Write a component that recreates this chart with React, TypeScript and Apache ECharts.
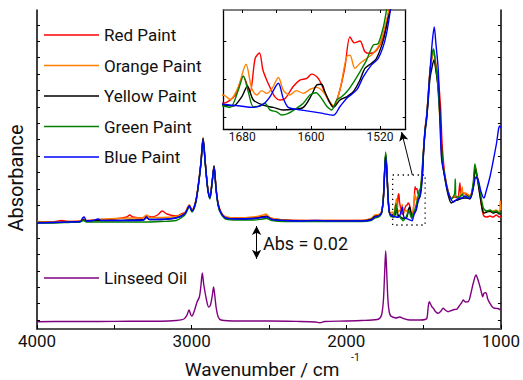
import React, { useEffect, useRef } from 'react';
import * as echarts from 'echarts';

type Pt = [number, number];

// wavenumber (cm^-1), relative absorbance (offset units; 16.4 units = 0.01 Abs)
const redPaint: Pt[] = [
  [4000,107],[3900,107],[3840,108.5],[3800,107.5],[3720,108],[3700,110],[3680,108.5],[3600,109.5],[3500,110],[3420,112],[3400,114],[3380,112],[3320,111],[3292,113],[3260,112],[3220,114],[3190,118],[3160,115],[3100,113],[3060,115.5],[3040,117],[3015,124],[2998,119],[2975,127],[2958,143],[2940,166],[2926,190],[2912,167],[2896,141],[2882,132],[2868,147],[2855,163],[2842,141],[2828,125],[2810,117],[2780,112],[2700,111],[2600,111.5],[2540,112.5],[2515,113],[2480,110.5],[2400,109],[2300,108.5],[2200,108.5],[2100,108.5],[2000,108.5],[1900,108.5],[1840,110],[1815,113],[1790,114],[1772,117],[1760,131],[1752,157],[1745,174],[1738,160],[1730,133],[1722,118],[1712,115],
  [1702,113.4],[1688,117],[1679,125.2],[1671,118.4],[1665,132.9],[1660,135.3],[1656,128],[1651.6,123.5],[1648,120.6],[1642,116.2],[1636,114.8],[1630,115.5],[1621,120.6],[1613,123.5],[1605,124.2],[1599.4,126.1],[1591.6,124.2],[1586,119.9],[1580,114.8],[1574,112.2],[1566.5,119.2],[1560.6,129.3],[1554.8,142.3],[1549.7,139.7],[1543.2,140.5],[1537.4,135.8],[1531.6,135.1],[1523.9,136.5],[1516,142.3],[1510.3,152.5],
  [1500,180],[1490,201],[1480,214],[1470,234],[1459,258],[1445,272],[1433,276],[1420,264],[1405,250],[1390,222],[1380,185],[1362,154],[1341,138],[1320,131],[1300,132],[1280,131],[1265,146],[1258,133],[1240,136],[1220,134],[1200,133],[1180,143],[1165,162],[1150,150],[1136,135],[1120,118],[1110,113],[1090,112],[1070,113],[1050,112],[1030,114],[1010,112],[1000,113]
];

const orangePaint: Pt[] = [
  [4000,107.5],[3900,107],[3800,107.5],[3720,108],[3700,110.5],[3680,108.5],[3600,109.5],[3500,110.5],[3400,111],[3320,111],[3292,114],[3270,111.5],[3200,111.5],[3100,112.5],[3060,114.5],[3040,117],[3015,124],[2998,119],[2975,127],[2958,143],[2940,167],[2926,191],[2912,167],[2896,141],[2882,132],[2868,147],[2855,163],[2842,141],[2828,125],[2810,117],[2780,112],[2700,111],[2600,112],[2540,114],[2520,115],[2490,111],[2400,109],[2300,108.5],[2200,108.5],[2100,108.5],[2000,108.5],[1900,108.5],[1840,110.5],[1815,114],[1790,114.5],[1772,117],[1760,131],[1752,157],[1745,174],[1738,160],[1730,133],[1722,119],[1712,116],
  [1702,117],[1694,115],[1684.5,120.6],[1675.6,130.4],[1669,119.9],[1663,117],[1657.5,118.9],[1651.6,117.7],[1645,120],[1638,124.6],[1632,118.9],[1624.6,117],[1617,118.9],[1609,117.7],[1601,119.5],[1593.5,120.3],[1586,118.4],[1578,114],[1573.5,112.2],[1566.5,119.2],[1558.7,133.6],[1554.8,134.3],[1549,128.6],[1543,130.8],[1535.5,132.9],[1527.8,135.1],[1520,139.4],[1512.3,149.6],[1508,156],
  [1500,179],[1490,200],[1480,213],[1470,233],[1459,257],[1445,272],[1435,278],[1425,266],[1410,247],[1395,210],[1383,172],[1362,153],[1341,137],[1320,130],[1300,134],[1280,132],[1260,135],[1250,142],[1245,134],[1230,136],[1215,135],[1200,133],[1180,142],[1165,158],[1150,150],[1136,138],[1120,120],[1105,116],[1090,118],[1070,117],[1050,118],[1030,119],[1010,117],[1004,128],[1000,119]
];

const yellowPaint: Pt[] = [
  [4000,106.5],[3900,106.5],[3800,107],[3720,107.5],[3700,109],[3680,108],[3600,108.5],[3500,108.5],[3400,109],[3310,109.5],[3292,111.5],[3270,109.5],[3150,110],[3080,112],[3040,116],[3015,123],[2998,118],[2975,126],[2958,142],[2940,166],[2926,191],[2912,167],[2896,141],[2882,131],[2868,146],[2855,163],[2842,140],[2828,124],[2810,116],[2780,111],[2700,110],[2600,110.5],[2540,112],[2515,112.5],[2480,109.5],[2400,108.5],[2300,108],[2200,108],[2100,108],[2000,108],[1900,108],[1840,109.5],[1815,112.5],[1790,113],[1772,116],[1760,131],[1752,157],[1745,175],[1738,160],[1730,133],[1722,117],[1712,113],
  [1702,112.6],[1690.5,112.2],[1680.6,116.2],[1674,120.8],[1667,114.8],[1655.6,112.6],[1644,111.6],[1632.3,110.5],[1620.7,110.8],[1609,111.6],[1599.4,117],[1593.5,121.3],[1587.8,121.7],[1584,118.4],[1578,113.6],[1574,111.6],[1566.5,114.8],[1558.7,116.2],[1551,118.4],[1543.2,123.5],[1537.4,128.6],[1529.7,130.8],[1524,132.9],[1516,140.9],[1510,151],[1506,157],
  [1500,176],[1490,197],[1480,210],[1470,228],[1459,250],[1445,262],[1433,269],[1420,258],[1405,240],[1390,205],[1380,170],[1362,150],[1341,134],[1320,126],[1300,128],[1280,129],[1265,130],[1240,131],[1220,131],[1200,130],[1180,140],[1165,160],[1150,148],[1136,134],[1120,120],[1110,116],[1090,117],[1070,118],[1050,116],[1030,117],[1010,115],[1000,116]
];

const greenPaint: Pt[] = [
  [4000,106],[3900,106],[3800,106.5],[3720,107],[3700,108.5],[3680,107],[3600,107],[3500,107],[3400,107],[3300,107],[3200,107.5],[3100,108.5],[3060,112],[3040,115],[3015,122],[2998,117],[2975,125],[2958,141],[2940,165],[2926,189],[2912,165],[2896,140],[2882,130],[2868,145],[2855,162],[2842,139],[2828,123],[2810,115],[2780,110],[2700,109],[2600,109],[2540,110],[2515,110.5],[2480,108.5],[2400,107.5],[2300,107.5],[2200,107.5],[2100,107.5],[2000,107.5],[1900,107.5],[1840,108.5],[1815,111],[1790,112],[1772,116],[1760,132],[1752,159],[1745,177],[1738,162],[1730,134],[1722,117],[1712,112.5],
  [1702,112.2],[1694,111.6],[1684.5,119.2],[1678.7,125.2],[1673,118.4],[1667,111.9],[1659.4,112.2],[1653.7,113.4],[1647.8,110.5],[1640,109.7],[1634,108.3],[1626.5,109],[1617,111.2],[1609,113.4],[1601.3,117],[1594.3,118],[1587.8,115.5],[1582,112.2],[1576,110.5],[1570.3,114.8],[1564.5,116.2],[1556.8,119.2],[1549,123.5],[1543.2,127.1],[1535.5,132.2],[1527.8,138.7],[1522,139.4],[1516,146.6],[1512.3,153.9],
  [1500,180],[1490,200],[1480,213],[1470,233],[1459,256],[1445,275],[1435,280],[1425,268],[1410,248],[1400,225],[1390,200],[1380,172],[1362,152],[1341,137],[1320,130],[1300,135],[1295,150],[1288,132],[1265,132],[1250,135],[1240,132],[1220,133],[1200,132],[1180,145],[1168,165],[1160,158],[1150,150],[1136,140],[1120,125],[1110,120],[1090,118],[1070,119],[1050,117],[1030,118],[1010,116],[1000,117]
];

const bluePaint: Pt[] = [
  [4000,106],[3900,106.5],[3800,107],[3720,107.5],[3705,111],[3695,112],[3680,108],[3640,108.5],[3605,110],[3585,108.5],[3500,108.5],[3400,108.5],[3310,109],[3292,112],[3275,109.5],[3150,110],[3080,112],[3040,116],[3015,123],[2998,118],[2975,126],[2958,142],[2940,165],[2926,189],[2912,166],[2896,140],[2882,131],[2868,146],[2855,162],[2842,140],[2828,124],[2810,116],[2780,111],[2700,110],[2600,110.5],[2540,111.5],[2515,112],[2480,109.5],[2400,108.5],[2300,108],[2200,108.5],[2100,108],[2000,108],[1900,108],[1840,109],[1815,112],[1790,113],[1772,116],[1760,130],[1752,155],[1745,172],[1738,158],[1730,132],[1722,117],[1712,114],
  [1702,113],[1682.5,112.2],[1667,111.6],[1655.6,113],[1647.8,116.2],[1638,122.1],[1632.3,115.5],[1626.5,111.6],[1617,110.8],[1605,110.1],[1589.7,109.2],[1574,108.2],[1566.5,111.9],[1558.7,115.5],[1547,119.2],[1539.3,124.9],[1529.7,130.1],[1522,132.9],[1514,140.9],[1508.4,152.5],
  [1500,178],[1490,199],[1480,212],[1470,232],[1459,256],[1445,285],[1431,302],[1420,285],[1405,259],[1394,209],[1383,169],[1362,152],[1341,136],[1320,129],[1308,127],[1290,129],[1265,131],[1250,131],[1233,133],[1215,131],[1200,131],[1180,140],[1161,152],[1145,148],[1130,138],[1110,131],[1095,138],[1071,152],[1050,168],[1028,186],[1015,200],[1008,203],[1000,201]
];

const linseedOil: Pt[] = [
  [4000,7.3],[3800,7.5],[3600,7.5],[3400,7.8],[3200,7.8],[3100,8.5],[3050,10],[3030,14],[3017,19],[3005,14],[2998,13],[2985,17],[2965,27],[2950,32],[2940,43],[2931,56],[2922,45],[2905,30],[2890,22],[2878,24],[2866,34],[2858,42],[2850,33],[2840,20],[2828,12],[2810,9],[2700,8],[2500,8],[2300,7.5],[2200,7],[2170,6.3],[2140,7.5],[2000,8],[1900,8.5],[1800,9.5],[1782,11],[1770,15],[1760,28],[1752,55],[1745,78],[1738,55],[1730,28],[1722,17],[1712,13],[1700,12],[1680,11],[1653,12],[1630,10.5],[1588,9],[1520,9],[1490,9.5],[1478,11],[1470,22],[1463,27.3],[1455,25],[1445,22],[1437,20.7],[1420,17],[1405,15.7],[1390,17.5],[1373,20.7],[1360,19],[1341,17.3],[1320,18.5],[1300,19.5],[1286,19.7],[1270,23],[1255,26],[1243,29],[1230,27],[1211,27.3],[1195,35],[1180,45],[1161,54],[1150,50],[1135,42.3],[1125,36],[1118,32.3],[1108,36],[1097,36.3],[1085,30],[1071,25.7],[1055,22],[1039,20.7],[1020,20.5],[1002,19]
];

const paintNames = ['Red Paint', 'Orange Paint', 'Yellow Paint', 'Green Paint', 'Blue Paint'];
const paintData = [redPaint, orangePaint, yellowPaint, greenPaint, bluePaint];
const paintColors = ['#ff0000', '#ff8000', '#000000', '#008000', '#0000ff'];
const oilName = 'Linseed Oil';
const oilColor = '#800080';

const mainYTicks = [9, 25.4, 41.8, 58.2, 74.6, 91, 107.4, 123.8, 140.2, 156.6, 173, 189.4, 205.8, 222.2, 238.6, 255, 271.4, 287.8, 304.2];
const insetXTicks = [1680, 1640, 1600, 1560, 1520];
const insetXLabels = [1680, 1600, 1520];
const insetYTicks = [107.4, 123.8, 140.2];
// zoom box (cm^-1, units) and annotation arrows
const zoomBox = { x1: 1700, x2: 1490, y1: 104, y2: 154 };
const zoomArrow = { from: [1573, 154], to: [1642, 197] };
const absArrow = { x: 2580, y1: 70.2, y2: 103 };

const FONT = 'Roboto';
const plain = (v: number) => String(v);

export default function App() {
  const ref = useRef<HTMLDivElement>(null);
  useEffect(() => {
    if (!ref.current) return;
    const chart = echarts.init(ref.current, null, { renderer: 'svg' });
    const axisCol = '#000';
    const mainSeries: any[] = paintNames.map((n, i) => ({
      name: n,
      type: 'line',
      xAxisIndex: 0,
      yAxisIndex: 0,
      data: paintData[i],
      showSymbol: false,
      symbol: 'none',
      smooth: 0.3,
      color: paintColors[i],
      lineStyle: { width: 1.4, color: paintColors[i] },
      z: 3 + i,
    }));
    mainSeries[0].markArea = {
      silent: true,
      itemStyle: { color: 'rgba(0,0,0,0)', borderColor: '#000', borderWidth: 1.3, borderType: [1.3, 3.7] },
      data: [[{ coord: [zoomBox.x1, zoomBox.y2] }, { coord: [zoomBox.x2, zoomBox.y1] }]],
    };
    mainSeries[0].markLine = {
      silent: true,
      label: { show: false },
      lineStyle: { color: '#000', width: 1, type: 'solid' },
      symbolSize: [7, 9],
      data: [
        [{ coord: zoomArrow.from, symbol: 'none' }, { coord: zoomArrow.to, symbol: 'arrow' }],
        [{ coord: [absArrow.x, absArrow.y1], symbol: 'arrow' }, { coord: [absArrow.x, absArrow.y2], symbol: 'arrow' }],
      ],
    };
    const insetSeries = paintNames.map((n, i) => ({
      name: n,
      type: 'line',
      xAxisIndex: 2,
      yAxisIndex: 2,
      data: paintData[i],
      showSymbol: false,
      symbol: 'none',
      smooth: 0.3,
      clip: true,
      color: paintColors[i],
      lineStyle: { width: 1.4, color: paintColors[i] },
      z: 10 + i,
    }));
    const oilSeries = {
      name: oilName,
      type: 'line',
      xAxisIndex: 0,
      yAxisIndex: 0,
      data: linseedOil,
      showSymbol: false,
      symbol: 'none',
      smooth: 0.3,
      color: oilColor,
      lineStyle: { width: 1.4, color: oilColor },
      z: 2,
    };
    const legendBase = {
      orient: 'vertical',
      left: 44,
      padding: 0,
      itemWidth: 55,
      itemHeight: 1.5,
      itemGap: 10.5,
      icon: 'rect',
      selectedMode: false,
      textStyle: { fontSize: 17, lineHeight: 20, color: '#111', fontFamily: FONT },
    };
    const option: any = {
      animation: false,
      backgroundColor: '#fff',
      textStyle: { fontFamily: FONT },
      grid: [
        { left: 37, top: 10, width: 464, height: 319 },
        { left: 223.3, top: 10, width: 182.4, height: 119, show: true, backgroundColor: '#fff', borderWidth: 0, z: 8 },
      ],
      legend: [
        { ...legendBase, top: 25, data: paintNames },
        { ...legendBase, top: 268, data: [oilName] },
      ],
      xAxis: [
        {
          type: 'value', gridIndex: 0, min: 1000, max: 4000, interval: 1000, inverse: true,
          axisLine: { lineStyle: { color: axisCol, width: 1.5 } },
          axisTick: { inside: true, length: 4, lineStyle: { color: axisCol } },
          minorTick: { show: true, splitNumber: 2, length: 4, lineStyle: { color: axisCol } },
          axisLabel: { fontSize: 17, lineHeight: 15, color: '#111', margin: 4, fontFamily: FONT, formatter: plain },
          splitLine: { show: false },
        },
        {
          type: 'value', gridIndex: 0, min: 1000, max: 4000, inverse: true, position: 'top',
          axisLine: { show: true, lineStyle: { color: '#555', width: 2 } },
          axisTick: { show: false }, axisLabel: { show: false }, splitLine: { show: false },
        },
        {
          type: 'value', gridIndex: 1, min: 1490, max: 1702, inverse: true,
          axisLine: { lineStyle: { color: axisCol, width: 1.3 } },
          axisTick: { inside: true, length: 3, customValues: insetXTicks, lineStyle: { color: axisCol } },
          axisLabel: { fontSize: 12, color: '#111', margin: 2, customValues: insetXLabels, fontFamily: FONT, formatter: plain },
          splitLine: { show: false },
          z: 9,
        },
        {
          type: 'value', gridIndex: 1, min: 1490, max: 1702, inverse: true, position: 'top',
          axisLine: { lineStyle: { color: '#555', width: 1.5 } },
          axisTick: { inside: true, length: 3, customValues: insetXTicks, lineStyle: { color: axisCol } },
          axisLabel: { show: false }, splitLine: { show: false },
          z: 9,
        },
      ],
      yAxis: [
        {
          type: 'value', gridIndex: 0, min: 0, max: 319,
          axisLine: { show: true, lineStyle: { color: axisCol, width: 1.5 } },
          axisTick: { show: true, inside: true, length: 3, customValues: mainYTicks, lineStyle: { color: axisCol } },
          axisLabel: { show: false }, splitLine: { show: false },
        },
        {
          type: 'value', gridIndex: 0, min: 0, max: 319, position: 'right',
          axisLine: { show: true, lineStyle: { color: axisCol, width: 1.5 } },
          axisTick: { show: true, inside: true, length: 3, customValues: mainYTicks, lineStyle: { color: axisCol } },
          axisLabel: { show: false }, splitLine: { show: false },
        },
        {
          type: 'value', gridIndex: 1, min: 102.2, max: 154,
          axisLine: { show: true, lineStyle: { color: axisCol, width: 1.3 } },
          axisTick: { show: true, inside: true, length: 3, customValues: insetYTicks, lineStyle: { color: axisCol } },
          axisLabel: { show: false }, splitLine: { show: false },
          z: 9,
        },
        {
          type: 'value', gridIndex: 1, min: 102.2, max: 154, position: 'right',
          axisLine: { show: true, lineStyle: { color: axisCol, width: 1.3 } },
          axisTick: { show: true, inside: true, length: 3, customValues: insetYTicks, lineStyle: { color: axisCol } },
          axisLabel: { show: false }, splitLine: { show: false },
          z: 9,
        },
      ],
      graphic: [
        { type: 'text', x: 16, y: 178, rotation: Math.PI / 2, style: { text: 'Absorbance', fontSize: 20, fontFamily: FONT, fill: '#111', align: 'center', verticalAlign: 'middle' } },
        { type: 'text', x: 262, y: 369.5, style: { text: 'Wavenumber / cm', fontSize: 19, fontFamily: FONT, fill: '#111', align: 'center', verticalAlign: 'middle' } },
        { type: 'text', x: 351, y: 357, style: { text: '-1', fontSize: 10.5, fontFamily: FONT, fill: '#111', align: 'left', verticalAlign: 'middle' } },
        { type: 'text', x: 263, y: 243, style: { text: 'Abs = 0.02', fontSize: 18, fontFamily: FONT, fill: '#111', align: 'left', verticalAlign: 'middle' } },
      ],
      series: [...mainSeries, oilSeries, ...insetSeries],
    };
    chart.setOption(option);
    return () => chart.dispose();
  }, []);
  return <div ref={ref} style={{ position: 'fixed', left: 0, top: 0, width: 523, height: 380 }} />;
}
